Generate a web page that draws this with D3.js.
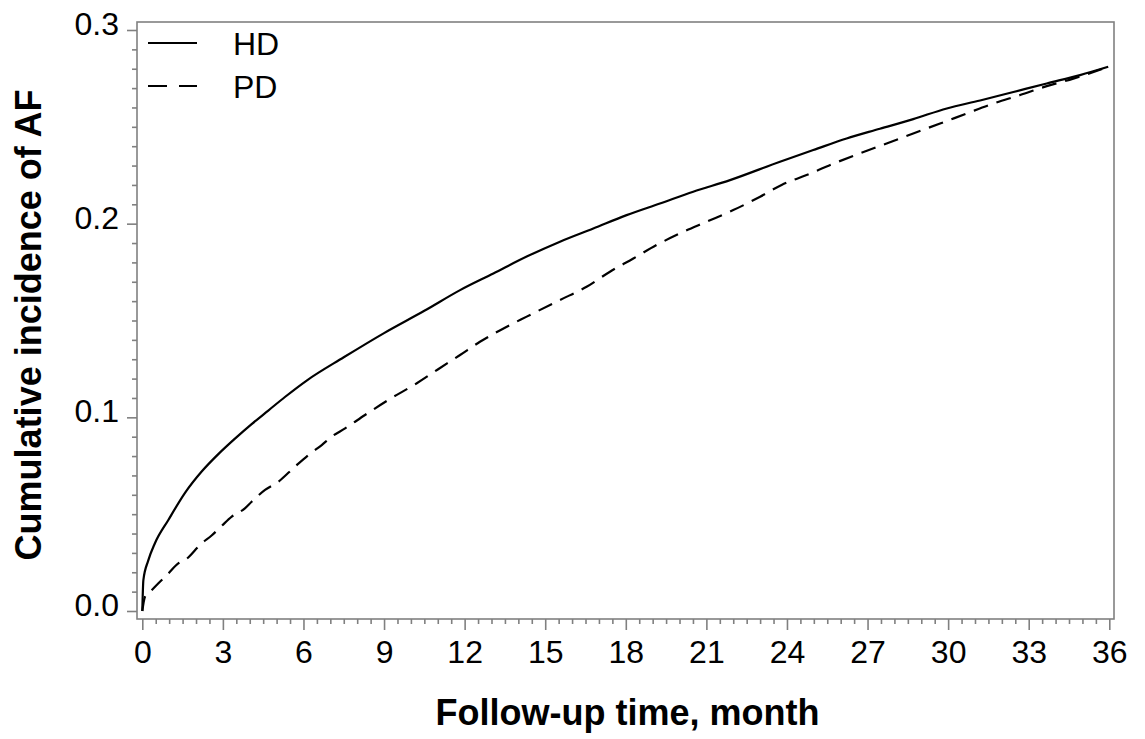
<!DOCTYPE html>
<html>
<head>
<meta charset="utf-8">
<script src="https://cdn.jsdelivr.net/npm/d3@7"></script>
<style>
  html, body { margin: 0; padding: 0; background: #fff; }
  svg { display: block; }
  text { font-family: "Liberation Sans", Arial, Helvetica, sans-serif; }
</style>
</head>
<body>
<svg id="chart" width="1145" height="739"></svg>
<script>
// ---- data ----
const hdTime  = [0, 0.04, 0.22, 0.47, 0.97, 1.59, 2.21, 2.83, 3.45, 4.07, 4.69, 5.31, 6.12, 7.5, 9.0, 10.5, 11.83, 13.07, 14.31, 15.55, 16.79, 18.03, 19.27, 20.51, 21.88, 23.74, 24.98, 26.22, 27.46, 28.7, 29.95, 31.19, 32.43, 33.67, 34.91, 35.96];
const hdValue = [0, 0.016, 0.026, 0.035, 0.047, 0.061, 0.072, 0.081, 0.089, 0.0965, 0.1035, 0.1105, 0.119, 0.131, 0.1435, 0.155, 0.1657, 0.1743, 0.183, 0.1907, 0.1975, 0.2044, 0.2104, 0.2165, 0.2225, 0.232, 0.238, 0.244, 0.249, 0.254, 0.2595, 0.2636, 0.268, 0.2724, 0.2767, 0.281];

const pdTime  = [0, 0.1, 0.22, 0.6, 0.97, 1.34, 1.59, 2.21, 2.58, 2.96, 3.33, 3.82, 4.07, 4.57, 5.06, 5.68, 6.18, 6.68, 7.05, 7.55, 8.29, 9.16, 10.22, 11.0, 11.83, 12.57, 13.57, 14.31, 15.55, 16.54, 17.41, 18.28, 19.15, 20.02, 21.01, 22.0, 23.0, 23.8, 24.73, 25.73, 26.72, 27.71, 28.7, 29.7, 30.69, 31.68, 32.68, 33.67, 34.66, 35.96];
const pdValue = [0, 0.0074, 0.009, 0.0143, 0.0194, 0.0246, 0.0263, 0.035, 0.039, 0.044, 0.0487, 0.053, 0.0564, 0.0625, 0.0667, 0.0745, 0.0805, 0.0857, 0.090, 0.0943, 0.1012, 0.109, 0.1176, 0.1247, 0.1322, 0.139, 0.1468, 0.152, 0.1606, 0.1674, 0.1752, 0.182, 0.189, 0.195, 0.201, 0.207, 0.2139, 0.220, 0.2251, 0.231, 0.2363, 0.2414, 0.2466, 0.2517, 0.2569, 0.262, 0.2664, 0.271, 0.2749, 0.281];

const xTicks = [0, 3, 6, 9, 12, 15, 18, 21, 24, 27, 30, 33, 36];
const yTicks = [0.0, 0.1, 0.2, 0.3];
const yTickLabels = ["0.0", "0.1", "0.2", "0.3"];
const seriesNames = ["HD", "PD"];
const xTitle = "Follow-up time, month";
const yTitle = "Cumulative incidence of AF";

// ---- layout ----
const svg = d3.select("#chart");
const frame = { left: 137, right: 1114, top: 22, bottom: 619 };
const x = d3.scaleLinear().domain([0, 36]).range([142.3, 1109.3]);
const y = d3.scaleLinear().domain([0, 0.3]).range([611, 30]);
const axisGray = "#808080";

// frame
svg.append("rect")
  .attr("x", frame.left).attr("y", frame.top)
  .attr("width", frame.right - frame.left).attr("height", frame.bottom - frame.top)
  .attr("fill", "none").attr("stroke", axisGray).attr("stroke-width", 1.6);

// minor ticks
const xMinor = d3.range(0, 36.001, 0.5).filter(v => Math.abs(v / 3 - Math.round(v / 3)) > 1e-6);
const yMinor = d3.range(0, 0.3001, 0.01).map(v => +v.toFixed(2)).filter(v => Math.abs(v * 10 - Math.round(v * 10)) > 1e-6);

const gxMinor = svg.append("g").attr("transform", `translate(0,${frame.bottom})`)
  .call(d3.axisBottom(x).tickValues(xMinor).tickSize(5).tickFormat(""));
const gyMinor = svg.append("g").attr("transform", `translate(${frame.left},0)`)
  .call(d3.axisLeft(y).tickValues(yMinor).tickSize(5).tickFormat(""));

// major ticks
const gx = svg.append("g").attr("transform", `translate(0,${frame.bottom})`)
  .call(d3.axisBottom(x).tickValues(xTicks).tickSize(11).tickPadding(10).tickFormat(d3.format("d")));
const gy = svg.append("g").attr("transform", `translate(${frame.left},0)`)
  .call(d3.axisLeft(y).tickValues(yTicks).tickSize(10).tickPadding(8).tickFormat((d, i) => yTickLabels[i]));

[gxMinor, gyMinor, gx, gy].forEach(g => {
  g.select(".domain").remove();
  g.selectAll(".tick line").attr("stroke", axisGray).attr("stroke-width", 1.6);
  g.selectAll("text").attr("fill", "#000").style("font-size", "32px")
    .style("font-family", '"Liberation Sans", Arial, Helvetica, sans-serif');
});
gy.selectAll("text").attr("dy", "0.14em");

// curves
const line = d3.line().x(d => x(d[0])).y(d => y(d[1])).curve(d3.curveMonotoneX);
const hdData = hdTime.map((t, i) => [t, hdValue[i]]);
const pdData = pdTime.map((t, i) => [t, pdValue[i]]);

svg.append("path").datum(pdData).attr("d", line)
  .attr("fill", "none").attr("stroke", "#000").attr("stroke-width", 2.2)
  .attr("stroke-dasharray", "15,9");
svg.append("path").datum(hdData).attr("d", line)
  .attr("fill", "none").attr("stroke", "#000").attr("stroke-width", 2.2);

// legend
const legend = svg.append("g");
legend.append("line").attr("x1", 148).attr("x2", 197).attr("y1", 43).attr("y2", 43)
  .attr("stroke", "#000").attr("stroke-width", 2);
legend.append("line").attr("x1", 148).attr("x2", 197).attr("y1", 86).attr("y2", 86)
  .attr("stroke", "#000").attr("stroke-width", 2).attr("stroke-dasharray", "19,12");
legend.selectAll("text.lg").data(seriesNames).enter().append("text")
  .attr("class", "lg").attr("x", 233).attr("y", (d, i) => 55 + i * 43)
  .style("font-size", "32px").attr("fill", "#000").text(d => d);

// axis titles
svg.append("text").attr("x", 627.5).attr("y", 725).attr("text-anchor", "middle")
  .style("font-size", "36px").style("font-weight", "bold").text(xTitle);
svg.append("text").attr("transform", "translate(41,325) rotate(-90)").attr("text-anchor", "middle")
  .style("font-size", "36px").style("font-weight", "bold").text(yTitle);
</script>
</body>
</html>
